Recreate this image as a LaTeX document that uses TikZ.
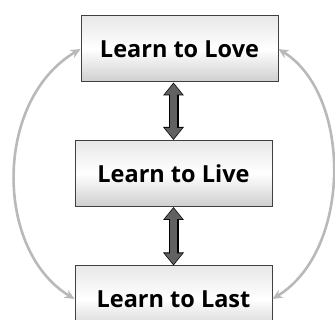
\documentclass[tikz,border=0pt]{standalone}
\usepackage{fontspec}
\setmainfont{Open Sans}
\usetikzlibrary{arrows.meta}
\tikzset{
      stage/.style={draw=black!75, line width=1, minimum width=197pt, minimum height=66pt,
            top color=gray!18, bottom color=gray!38, middle color=white,
            font=\fontsize{23.5}{26}\selectfont\bfseries, inner sep=0pt},
      linkout/.style={{Triangle[width=20pt,length=13pt]}-{Triangle[width=20pt,length=13pt]},
            line width=10pt, draw=black},
      linkin/.style={{Triangle[width=17pt,length=11pt]}-{Triangle[width=17pt,length=11pt]},
            line width=7.5pt, draw=black!62, shorten <=1.2pt, shorten >=1.2pt},
      loop/.style={{Stealth[length=10pt,width=9pt]}-{Stealth[length=10pt,width=9pt]},
            line width=2.6, draw=gray!55},
}
\begin{document}
\begin{tikzpicture}[x=1pt,y=-1pt]
        \useasboundingbox (0,0) rectangle (335,320);

        % Draw the boxes
        \node[stage] (love) at (179.5,49) {Learn to Love};
        \node[stage] (live) at (173.5,173.5) {Learn to Live};
        \node[stage] (last) at (173.5,299) {Learn to Last};

        % Draw the double arrows
        \draw[linkout] (live.north) -- (live.north |- love.south);
        \draw[linkin] (live.north) -- (live.north |- love.south);
        \draw[linkout] (last.north) -- (live.south);
        \draw[linkin] (last.north) -- (live.south);

        % Draw the outer loops
        \draw[loop] (love.west) .. controls (-6,100) and (-6,250) .. (last.west);
        \draw[loop] (love.east) .. controls (352,95) and (352,250) .. (last.east);

    \end{tikzpicture}
\end{document}
